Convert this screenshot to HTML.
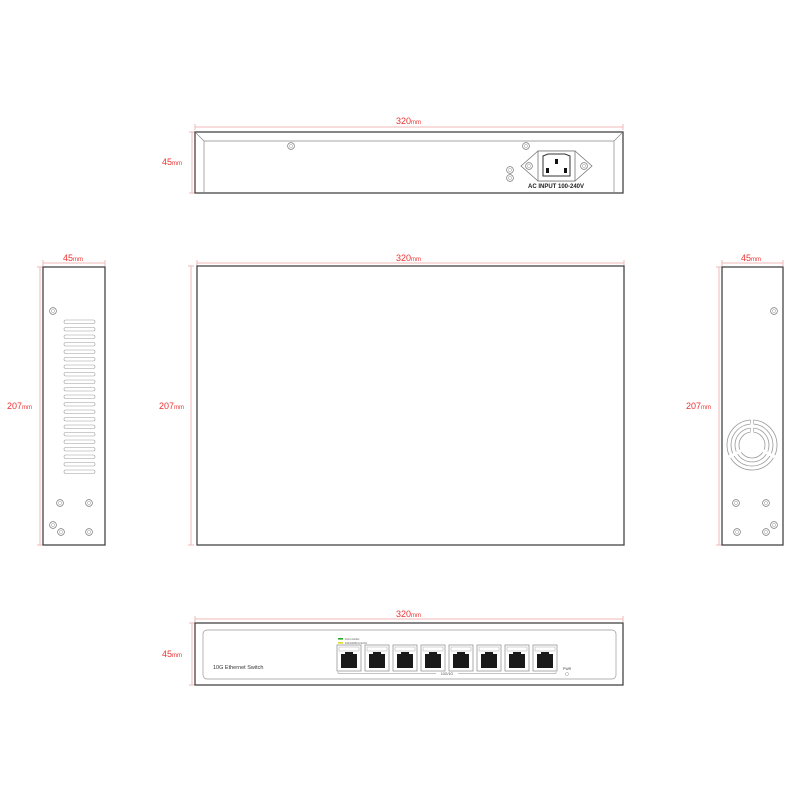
<!DOCTYPE html>
<html><head><meta charset="utf-8"><style>
html,body{margin:0;padding:0;background:#fff;width:800px;height:800px;overflow:hidden}
svg{display:block}
text{font-family:"Liberation Sans",sans-serif}
.d{fill:#e33;font-size:9px}
.dm{fill:#e33;font-size:6px}
.dl{stroke:#f0b8b8;stroke-width:1;fill:none}
.o{fill:none;stroke:#444;stroke-width:1.3}
.t{fill:none;stroke:#888;stroke-width:0.7}
</style></head><body>
<svg width="800" height="800" viewBox="0 0 800 800" xmlns="http://www.w3.org/2000/svg">
<defs>
<g id="sc"><circle r="3.4" fill="#fff" stroke="#777" stroke-width="0.7"/><circle r="1.6" fill="none" stroke="#999" stroke-width="0.5"/></g>
<g id="port"><rect x="0" y="0" width="24" height="26" fill="#fff" stroke="#888" stroke-width="0.7"/><rect x="2" y="2" width="20" height="4" fill="none" stroke="#aaa" stroke-width="0.5"/><path d="M4 9h4v-2h8v2h4v14h-16z" fill="#1a1a1a"/></g>
</defs>

<!-- TOP (rear) view -->
<path class="dl" d="M195 127H623M195 124v6M623 124v6M192 132V193M189 132h6M189 193h6"/>
<text x="396" y="124" class="d">320<tspan class="dm">mm</tspan></text>
<text x="162" y="165" class="d">45<tspan class="dm">mm</tspan></text>
<rect x="195" y="132" width="428" height="61" class="o"/>
<path class="t" d="M196 133L204 141H614L622 133M204 141V193M614 141V193"/>
<use href="#sc" x="291" y="146"/><use href="#sc" x="526" y="146"/>
<use href="#sc" x="510" y="170"/><use href="#sc" x="510" y="178"/>
<path d="M521 166L538 151H575L592 166L575 181H538Z" fill="#fff" stroke="#777" stroke-width="0.8"/>
<rect x="538" y="151" width="37" height="30" fill="#fff" stroke="#777" stroke-width="0.8"/>
<path d="M543 156L548 154H565L570 156V176H543Z" fill="#fff" stroke="#333" stroke-width="1"/>
<rect x="555" y="159" width="3" height="5" fill="#111"/><rect x="546" y="168" width="3" height="5" fill="#111"/><rect x="564" y="168" width="3" height="5" fill="#111"/>
<use href="#sc" x="529" y="166"/><use href="#sc" x="584" y="166"/>
<text x="556" y="188" text-anchor="middle" font-size="6" font-weight="bold" fill="#222">AC INPUT 100-240V</text>

<!-- MAIN top view -->
<path class="dl" d="M197 263H624M197 260v6M624 260v6M191 266V545M188 266h6M188 545h6"/>
<text x="396" y="261" class="d">320<tspan class="dm">mm</tspan></text>
<text x="159" y="409" class="d">207<tspan class="dm">mm</tspan></text>
<rect x="197" y="266" width="427" height="279" class="o"/>

<!-- LEFT side -->
<path class="dl" d="M43 263H105M43 260v6M105 260v6M40 267V545M37 267h6M37 545h6"/>
<text x="63" y="261" class="d">45<tspan class="dm">mm</tspan></text>
<text x="7" y="409" class="d">207<tspan class="dm">mm</tspan></text>
<rect x="43" y="267" width="62" height="278" class="o"/>
<g fill="none" stroke="#999" stroke-width="0.6">
<rect x="64" y="320" width="31" height="3.5" rx="1.7"/><rect x="64" y="327.5" width="31" height="3.5" rx="1.7"/><rect x="64" y="335" width="31" height="3.5" rx="1.7"/><rect x="64" y="342.5" width="31" height="3.5" rx="1.7"/><rect x="64" y="350" width="31" height="3.5" rx="1.7"/><rect x="64" y="357.5" width="31" height="3.5" rx="1.7"/><rect x="64" y="365" width="31" height="3.5" rx="1.7"/><rect x="64" y="372.5" width="31" height="3.5" rx="1.7"/><rect x="64" y="380" width="31" height="3.5" rx="1.7"/><rect x="64" y="387.5" width="31" height="3.5" rx="1.7"/><rect x="64" y="395" width="31" height="3.5" rx="1.7"/><rect x="64" y="402.5" width="31" height="3.5" rx="1.7"/><rect x="64" y="410" width="31" height="3.5" rx="1.7"/><rect x="64" y="417.5" width="31" height="3.5" rx="1.7"/><rect x="64" y="425" width="31" height="3.5" rx="1.7"/><rect x="64" y="432.5" width="31" height="3.5" rx="1.7"/><rect x="64" y="440" width="31" height="3.5" rx="1.7"/><rect x="64" y="447.5" width="31" height="3.5" rx="1.7"/><rect x="64" y="455" width="31" height="3.5" rx="1.7"/><rect x="64" y="462.5" width="31" height="3.5" rx="1.7"/><rect x="64" y="470" width="31" height="3.5" rx="1.7"/>
</g>
<use href="#sc" x="53" y="311"/><use href="#sc" x="60" y="503"/><use href="#sc" x="89" y="503"/><use href="#sc" x="53" y="525"/><use href="#sc" x="61" y="532"/><use href="#sc" x="89" y="532"/>

<!-- RIGHT side -->
<path class="dl" d="M722 263H783M722 260v6M783 260v6M719 267V545M716 267h6M716 545h6"/>
<text x="741" y="261" class="d">45<tspan class="dm">mm</tspan></text>
<text x="686" y="409" class="d">207<tspan class="dm">mm</tspan></text>
<rect x="722" y="267" width="61" height="278" class="o"/>
<g fill="none" stroke="#999" stroke-width="0.8">
<circle cx="752" cy="445" r="25"/><circle cx="752" cy="445" r="21"/><circle cx="752" cy="445" r="17"/><circle cx="752" cy="445" r="13"/>
</g>
<g stroke="#fff" stroke-width="3">
<path d="M752 445V418M752 445L775 457M752 445L729 457"/>
</g>
<g stroke="#999" stroke-width="0.6">
<path d="M750.5 420v3.5M753.5 420v3.5M750.5 428v3.5M753.5 428v3.5"/>
</g>

<use href="#sc" x="774" y="311"/><use href="#sc" x="736" y="503"/><use href="#sc" x="766" y="503"/><use href="#sc" x="774" y="525"/><use href="#sc" x="737" y="532"/><use href="#sc" x="766" y="532"/>

<!-- FRONT view -->
<path class="dl" d="M195 619H623M195 616v6M623 616v6M192 623V685M189 623h6M189 685h6"/>
<text x="396" y="617" class="d">320<tspan class="dm">mm</tspan></text>
<text x="162" y="657" class="d">45<tspan class="dm">mm</tspan></text>
<rect x="195" y="623" width="428" height="62" class="o"/>
<rect x="203" y="630" width="413" height="49" rx="4" fill="none" stroke="#999" stroke-width="0.7"/>
<text x="213" y="669" font-size="5.5" fill="#333">10G Ethernet Switch</text>
<rect x="338" y="638" width="5" height="1.6" fill="#2a2"/><text x="345" y="640" font-size="2.5" fill="#555">10G Link/Act</text>
<rect x="338" y="642" width="5" height="1.6" fill="#dd2"/><text x="345" y="644" font-size="2.5" fill="#555">100/1000M Link/Act</text>
<use href="#port" x="337" y="645"/><use href="#port" x="365" y="645"/><use href="#port" x="393" y="645"/><use href="#port" x="421" y="645"/><use href="#port" x="449" y="645"/><use href="#port" x="477" y="645"/><use href="#port" x="505" y="645"/><use href="#port" x="533" y="645"/>
<path d="M338 672v1.5H436M458 673.5H556v-1.5" fill="none" stroke="#888" stroke-width="0.5"/>
<text x="447" y="675" text-anchor="middle" font-size="3.5" fill="#444">10G/1G</text>
<text x="563" y="670" font-size="3.5" fill="#444">PWR</text>
<circle cx="567" cy="674" r="1.5" fill="none" stroke="#999" stroke-width="0.5"/>
</svg>
</body></html>
